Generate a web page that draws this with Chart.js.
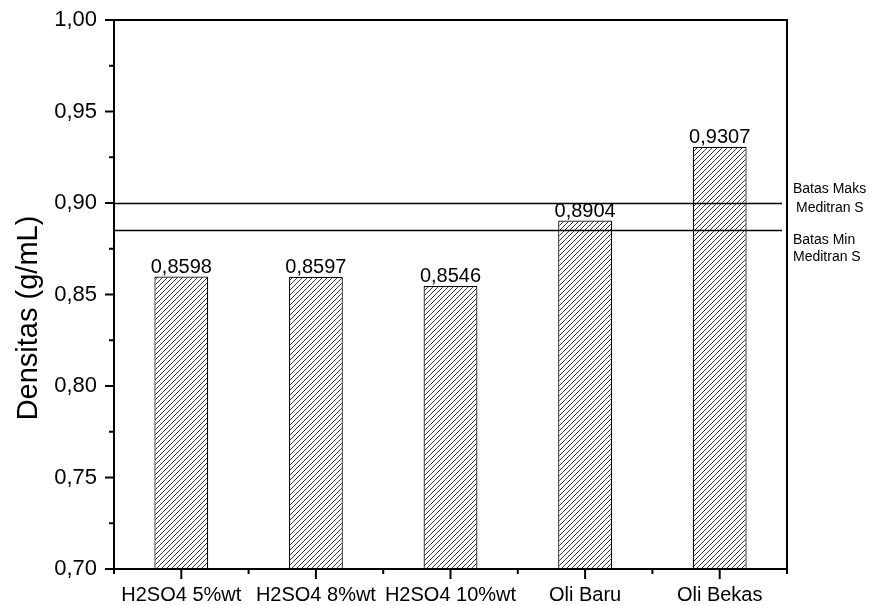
<!DOCTYPE html>
<html>
<head>
<meta charset="utf-8">
<script src="https://cdn.jsdelivr.net/npm/chart.js@4/dist/chart.umd.min.js"></script>
<style>
  html, body { margin: 0; padding: 0; background: #fff; }
  canvas { display: block; }
</style>
</head>
<body>
<canvas id="c" width="871" height="605"></canvas>
<script>
// Density of oil samples (g/mL)
const categories = ['H2SO4 5%wt', 'H2SO4 8%wt', 'H2SO4 10%wt', 'Oli Baru', 'Oli Bekas'];
const densities = [0.8598, 0.8597, 0.8546, 0.8904, 0.9307];

// Meditran S specification limits
const limitValues = [0.900, 0.885];
const limitLabels = [['Batas Maks', 'Meditran S'], ['Batas Min', 'Meditran S']];

const yMin = 0.70, yMax = 1.00, yStep = 0.05;
const yTitle = 'Densitas (g/mL)';

const FONT = '"Liberation Sans", Arial, sans-serif';

function hatchPattern() {
  const s = 5;
  const c = document.createElement('canvas');
  c.width = s; c.height = s;
  const g = c.getContext('2d');
  g.fillStyle = '#fff';
  g.fillRect(0, 0, s, s);
  g.strokeStyle = '#222';
  g.lineWidth = 0.9;
  g.beginPath();
  g.moveTo(0, s); g.lineTo(s, 0);
  g.moveTo(-1, 1); g.lineTo(1, -1);
  g.moveTo(s - 1, s + 1); g.lineTo(s + 1, s - 1);
  g.stroke();
  return g.createPattern(c, 'repeat');
}

const fmt = (v, d) => v.toFixed(d).replace('.', ',');

// frame, tick marks, limit lines, value labels and the rotated axis title
const decorations = {
  id: 'decorations',
  afterDatasetsDraw(chart) {
    const { ctx, chartArea: a, scales: { x, y } } = chart;
    ctx.save();
    ctx.strokeStyle = '#000';
    ctx.fillStyle = '#000';

    // limit lines
    ctx.lineWidth = 1.4;
    limitValues.forEach(v => {
      const py = Math.round(y.getPixelForValue(v)) + 0.5;
      ctx.beginPath();
      ctx.moveTo(a.left, py);
      ctx.lineTo(a.right - 5, py);
      ctx.stroke();
    });

    // limit labels
    ctx.font = '14px ' + FONT;
    ctx.textBaseline = 'middle';
    ctx.textAlign = 'left';
    const tx = a.right + 6;
    const p0 = y.getPixelForValue(limitValues[0]);
    ctx.fillText(limitLabels[0][0], tx, p0 - 14);
    ctx.fillText(limitLabels[0][1], tx + 3, p0 + 5);
    const p1 = y.getPixelForValue(limitValues[1]);
    ctx.fillText(limitLabels[1][0], tx, p1 + 10);
    ctx.fillText(limitLabels[1][1], tx, p1 + 27);

    // value labels above bars
    ctx.font = '20px ' + FONT;
    ctx.textAlign = 'center';
    ctx.textBaseline = 'alphabetic';
    const meta = chart.getDatasetMeta(0);
    meta.data.forEach((bar, i) => {
      ctx.fillText(fmt(densities[i], 4), bar.x, bar.y - 4);
    });

    // frame
    ctx.lineWidth = 2;
    ctx.beginPath();
    ctx.moveTo(a.left, a.bottom);
    ctx.lineTo(a.left, a.top);
    ctx.lineTo(a.right, a.top);
    ctx.lineTo(a.right, a.bottom);
    ctx.lineTo(a.left, a.bottom);
    ctx.stroke();

    // y ticks (major + minor)
    const yt = y.ticks.map(t => t.value);
    yt.forEach((v, i) => {
      const py = y.getPixelForValue(v);
      ctx.beginPath(); ctx.moveTo(a.left - 9, py); ctx.lineTo(a.left, py); ctx.stroke();
      if (i < yt.length - 1) {
        const pm = y.getPixelForValue((v + yt[i + 1]) / 2);
        ctx.beginPath(); ctx.moveTo(a.left - 5, pm); ctx.lineTo(a.left, pm); ctx.stroke();
      }
    });

    // x ticks (major at categories, minor at boundaries)
    categories.forEach((c, i) => {
      const px = x.getPixelForValue(i);
      ctx.beginPath(); ctx.moveTo(px, a.bottom); ctx.lineTo(px, a.bottom + 10); ctx.stroke();
    });
    for (let i = -0.5; i <= categories.length - 0.5; i += 1) {
      const px = x.getPixelForValue(i);
      ctx.beginPath(); ctx.moveTo(px, a.bottom); ctx.lineTo(px, a.bottom + 5); ctx.stroke();
    }

    // y axis title
    ctx.font = '29px ' + FONT;
    ctx.textAlign = 'center';
    ctx.textBaseline = 'middle';
    ctx.translate(29, 318);
    ctx.rotate(-Math.PI / 2);
    ctx.fillText(yTitle, 0, 0);
    ctx.restore();
  }
};

new Chart(document.getElementById('c'), {
  type: 'bar',
  data: {
    labels: categories,
    datasets: [{
      data: densities,
      backgroundColor: hatchPattern(),
      borderColor: '#000',
      borderWidth: 1.2,
      categoryPercentage: 1,
      barPercentage: 0.4
    }]
  },
  options: {
    responsive: false,
    animation: false,
    devicePixelRatio: 1,
    layout: { padding: { top: 20, right: 84, bottom: 0, left: 0 } },
    plugins: { legend: { display: false }, tooltip: { enabled: false } },
    scales: {
      x: {
        grid: { display: false, drawTicks: false },
        border: { display: false },
        ticks: { color: '#000', font: { size: 20, family: FONT }, padding: 14, maxRotation: 0, autoSkip: false },
        afterFit(s) { s.height = 36; s.paddingLeft = 0; s.paddingRight = 0; }
      },
      y: {
        min: yMin, max: yMax,
        grid: { display: false, drawTicks: false },
        border: { display: false },
        ticks: {
          stepSize: yStep,
          color: '#000',
          font: { size: 22, family: FONT },
          padding: 17,
          callback: v => fmt(v, 2)
        },
        afterFit(s) { s.width = 114; s.paddingTop = 0; s.paddingBottom = 0; }
      }
    }
  },
  plugins: [decorations]
});
</script>
</body>
</html>
